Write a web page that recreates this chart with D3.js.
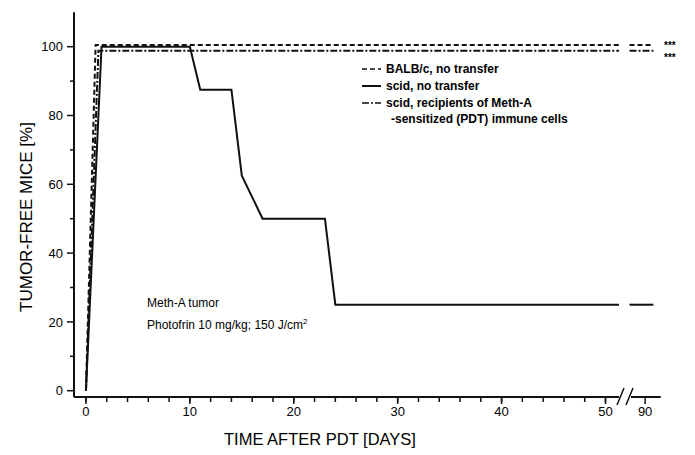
<!DOCTYPE html>
<html>
<head>
<meta charset="utf-8">
<script src="https://cdn.jsdelivr.net/npm/d3@7"></script>
<style>
  body { margin: 0; background: #fff; }
  svg { font-family: "Liberation Sans", Arial, sans-serif; }
</style>
</head>
<body>
<div id="chart"></div>
<script>
// days and % tumor-free, left part of the broken axis (0..52) and right part (~90)
const balbDays = [0, 0.93, 51.3]
const balbVals = [0, 100.5, 100.5]
const balbLateDays = [88.5, 90.8]
const balbLateVals = [100.5, 100.5]

const scidDays = [0, 1.5, 10, 11, 14, 15, 17, 23, 24, 51.3]
const scidVals = [0, 100, 100, 87.5, 87.5, 62.5, 50, 50, 25, 25]
const scidLateDays = [88.5, 90.8]
const scidLateVals = [25, 25]

const recDays = [0, 1.2, 51.3]
const recVals = [0, 98.8, 98.8]
const recLateDays = [88.5, 90.8]
const recLateVals = [98.8, 98.8]

const xTicksLeft = [0, 10, 20, 30, 40, 50]
const xTicksRight = [90]
const yTicks = [0, 20, 40, 60, 80, 100]

const legendLabels = ["BALB/c, no transfer", "scid, no transfer", "scid, recipients of Meth-A"]

var W = 695, H = 455

var svg = d3.select("#chart")
  .append("svg")
  .attr("width", W)
  .attr("height", H)

// scales - broken x axis
var xLeft = d3.scaleLinear().domain([-1.15, 51.3]).range([74, 619])
var xRight = d3.scaleLinear().domain([88.4, 91.5]).range([628.5, 660.7])
var y = d3.scaleLinear().domain([0, 100]).range([390.7, 46.7])
var axisY = 397

var stroke = "#111"

// y axis
var yAxis = svg.append("g").attr("transform", "translate(74,0)")
yAxis.append("line")
  .attr("y1", y(110)).attr("y2", axisY)
  .attr("stroke", stroke).attr("stroke-width", 2)
yAxis.selectAll(".minor")
  .data(d3.range(10, 110, 20))
  .enter().append("line")
  .attr("x1", -4).attr("x2", 0)
  .attr("y1", d => y(d)).attr("y2", d => y(d))
  .attr("stroke", stroke).attr("stroke-width", 1.5)
yAxis.selectAll(".major")
  .data(yTicks)
  .enter().append("line")
  .attr("x1", -7).attr("x2", 0)
  .attr("y1", d => y(d)).attr("y2", d => y(d))
  .attr("stroke", stroke).attr("stroke-width", 1.5)
yAxis.selectAll("text")
  .data(yTicks)
  .enter().append("text")
  .attr("x", -11)
  .attr("y", d => y(d))
  .attr("dy", "0.36em")
  .attr("text-anchor", "end")
  .style("font-size", "13px")
  .text(d => d)

// x axis, left part
var xAxis = svg.append("g")
xAxis.append("line")
  .attr("x1", 74).attr("x2", xLeft(51.3))
  .attr("y1", axisY).attr("y2", axisY)
  .attr("stroke", stroke).attr("stroke-width", 2)
xAxis.append("line")
  .attr("x1", 631).attr("x2", xRight(91.5))
  .attr("y1", axisY).attr("y2", axisY)
  .attr("stroke", stroke).attr("stroke-width", 2)
xAxis.selectAll(".minor")
  .data(d3.range(0, 51, 2))
  .enter().append("line")
  .attr("x1", d => xLeft(d)).attr("x2", d => xLeft(d))
  .attr("y1", axisY).attr("y2", axisY + 5)
  .attr("stroke", stroke).attr("stroke-width", 1.5)
xAxis.selectAll(".major")
  .data(xTicksLeft)
  .enter().append("line")
  .attr("x1", d => xLeft(d)).attr("x2", d => xLeft(d))
  .attr("y1", axisY).attr("y2", axisY + 7)
  .attr("stroke", stroke).attr("stroke-width", 1.5)
xAxis.selectAll(".majorR")
  .data(xTicksRight)
  .enter().append("line")
  .attr("x1", d => xRight(d)).attr("x2", d => xRight(d))
  .attr("y1", axisY).attr("y2", axisY + 7)
  .attr("stroke", stroke).attr("stroke-width", 1.5)
xAxis.selectAll(".lblL")
  .data(xTicksLeft)
  .enter().append("text")
  .attr("x", d => xLeft(d))
  .attr("y", 416)
  .attr("text-anchor", "middle")
  .style("font-size", "13px")
  .text(d => d)
xAxis.selectAll(".lblR")
  .data(xTicksRight)
  .enter().append("text")
  .attr("x", d => xRight(d))
  .attr("y", 416)
  .attr("text-anchor", "middle")
  .style("font-size", "13px")
  .text(d => d)

// break marks
;[617, 626].forEach(function(bx) {
  xAxis.append("line")
    .attr("x1", bx).attr("y1", axisY + 8)
    .attr("x2", bx + 7).attr("y2", axisY - 9)
    .attr("stroke", stroke).attr("stroke-width", 1.5)
})

// axis titles
svg.append("text")
  .attr("x", 320).attr("y", 445)
  .attr("text-anchor", "middle")
  .attr("fill", "#000")
  .style("font-size", "16.5px")
  .text("TIME AFTER PDT [DAYS]")
svg.append("text")
  .attr("transform", "translate(32,217) rotate(-90)")
  .attr("text-anchor", "middle")
  .attr("fill", "#000")
  .style("font-size", "17px")
  .text("TUMOR-FREE MICE [%]")

// lines
var series = [
  { days: balbDays, vals: balbVals, late: [balbLateDays, balbLateVals], dash: "5,3" },
  { days: scidDays, vals: scidVals, late: [scidLateDays, scidLateVals], dash: null },
  { days: recDays, vals: recVals, late: [recLateDays, recLateVals], dash: "7,2,2,2" }
]

var lineL = d3.line().x(d => xLeft(d[0])).y(d => y(d[1]))
var lineR = d3.line().x(d => xRight(d[0])).y(d => y(d[1]))

series.forEach(function(s) {
  svg.append("path")
    .datum(d3.zip(s.days, s.vals))
    .attr("d", lineL)
    .attr("fill", "none")
    .attr("stroke", stroke)
    .attr("stroke-width", 2)
    .attr("stroke-dasharray", s.dash)
  svg.append("path")
    .datum(d3.zip(s.late[0], s.late[1]))
    .attr("d", lineR)
    .attr("fill", "none")
    .attr("stroke", stroke)
    .attr("stroke-width", 2)
    .attr("stroke-dasharray", s.dash)
})

// significance stars
;[49, 61].forEach(function(sy) {
  svg.append("text")
    .attr("x", 664).attr("y", sy)
    .style("font-size", "10px")
    .style("font-weight", "bold")
    .text("***")
})

// legend
var legend = svg.append("g")
var legY = [69, 86, 103]
legendLabels.forEach(function(lbl, i) {
  legend.append("line")
    .attr("x1", 362).attr("x2", 381)
    .attr("y1", legY[i]).attr("y2", legY[i])
    .attr("stroke", stroke)
    .attr("stroke-width", i == 1 ? 2 : 1.5)
    .attr("stroke-dasharray", series[i].dash)
  legend.append("text")
    .attr("x", 386).attr("y", legY[i])
    .attr("dy", "0.35em")
    .style("font-size", "12px")
    .style("font-weight", "bold")
    .text(lbl)
})
legend.append("text")
  .attr("x", 391).attr("y", 119)
  .attr("dy", "0.35em")
  .style("font-size", "12px")
  .style("font-weight", "bold")
  .text("-sensitized (PDT) immune cells")

// annotation
svg.append("text")
  .attr("x", 147).attr("y", 307)
  .style("font-size", "12px")
  .text("Meth-A tumor")
var ann = svg.append("text")
  .attr("x", 147).attr("y", 329)
  .style("font-size", "12px")
ann.append("tspan").text("Photofrin 10 mg/kg; 150 J/cm")
ann.append("tspan").attr("dy", "-5").style("font-size", "8px").text("2")
</script>
</body>
</html>
